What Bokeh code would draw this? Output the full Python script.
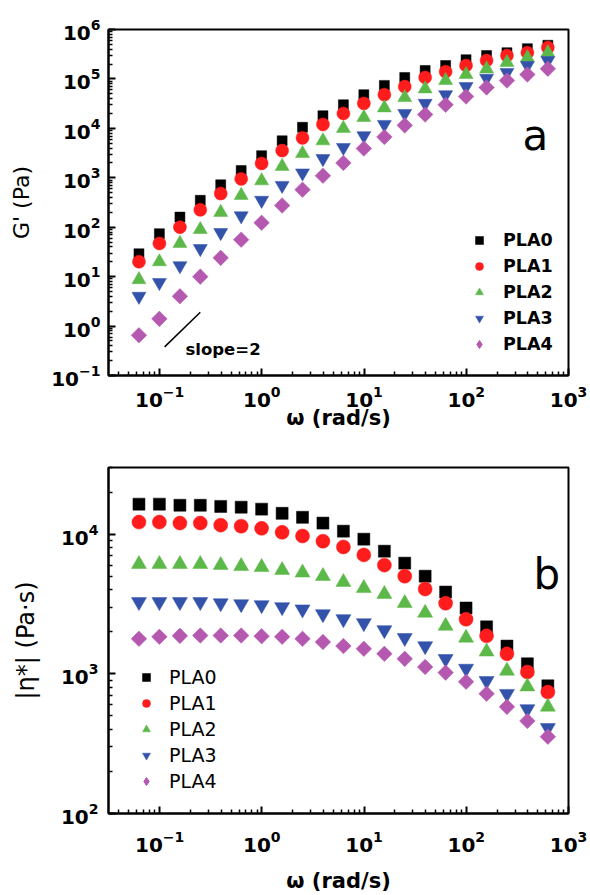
import numpy as np
from bokeh.plotting import figure
from bokeh.layouts import column
from bokeh.models import FixedTicker, Legend, LegendItem, Label, Range1d
from bokeh.embed import file_html
from bokeh.resources import INLINE

# angular frequency (rad/s)
omega = [0.0628, 0.0995, 0.158, 0.25, 0.396, 0.628, 0.995, 1.58, 2.5, 3.96, 6.28,
         9.95, 15.8, 25.0, 39.6, 62.8, 99.5, 158, 250, 396, 628]

samples = ["PLA0", "PLA1", "PLA2", "PLA3", "PLA4"]

# storage modulus G' (Pa)
g_pla0 = [29, 74, 160, 350, 720, 1400, 2800, 5600, 10500, 18000, 30000, 48000, 74000,
          107000, 148000, 187000, 245000, 297000, 340000, 410000, 480000]
g_pla1 = [20, 47, 100, 225, 480, 950, 1950, 3550, 6400, 12000, 20000, 32000, 48000,
          70000, 107000, 140000, 187000, 236000, 297000, 340000, 430000]
g_pla2 = [8.7, 20, 47, 90, 200, 440, 870, 1700, 3100, 5600, 10000, 16600, 26000,
          42000, 63000, 93000, 123000, 160000, 215000, 270000, 340000]
g_pla3 = [4.0, 7.6, 16.6, 37, 78, 170, 350, 700, 1250, 2450, 4100, 7100, 12000,
          20000, 32000, 48000, 70000, 103000, 135000, 187000, 235000]
g_pla4 = [0.65, 1.4, 4.0, 10, 24, 56, 123, 275, 575, 1100, 2000, 3900, 6700,
          11500, 19000, 30000, 44000, 67000, 93000, 123000, 160000]

# complex viscosity |eta*| (Pa.s)
eta_pla0 = [16400, 16400, 16100, 16100, 15800, 15600, 15100, 14100, 13200, 12000, 10500,
            9200, 7550, 6200, 5000, 3850, 2960, 2170, 1580, 1180, 820]
eta_pla1 = [12200, 12200, 12000, 12000, 11600, 11400, 11000, 10300, 9700, 8900, 8100,
            7100, 6000, 5000, 4050, 3200, 2460, 1870, 1390, 1030, 740]
eta_pla2 = [6100, 6100, 6100, 6100, 6000, 5900, 5800, 5530, 5300, 5000, 4540,
            4110, 3720, 3200, 2730, 2200, 1810, 1440, 1050, 810, 580]
eta_pla3 = [3270, 3270, 3270, 3270, 3210, 3160, 3110, 3010, 2900, 2680, 2470,
            2310, 2060, 1810, 1580, 1280, 1090, 890, 720, 560, 410]
eta_pla4 = [1780, 1840, 1870, 1880, 1880, 1880, 1860, 1840, 1780, 1690, 1580,
            1510, 1390, 1280, 1120, 1020, 877, 720, 580, 460, 355]

# reference slope segment in the terminal zone
slope_x = [0.112, 0.25]
slope_y = [0.38, 1.9]

colors = ["#000000", "#ff1c1c", "#5cb848", "#3352aa", "#b558b0"]
markers = ["square", "circle", "triangle", "inverted_triangle", "square"]
angles = [0, 0, 0, 0, np.pi / 4]
legend_markers = ["square", "circle", "triangle", "inverted_triangle", "diamond"]

FONT = "DejaVu Sans"


def decade_ticks(lo, hi):
    major = [10.0 ** e for e in range(lo, hi + 1)]
    minor = [m * 10.0 ** e for e in range(lo - 1, hi + 1) for m in range(2, 10)]
    return major, minor


def style_axes(p, xmaj, xmin, ymaj, ymin, x_standoff, y_standoff):
    p.xaxis.ticker = FixedTicker(ticks=xmaj, minor_ticks=xmin)
    p.yaxis.ticker = FixedTicker(ticks=ymaj, minor_ticks=ymin)
    for ax in (p.xaxis, p.yaxis):
        ax.axis_line_width = 2
        ax.axis_line_color = "black"
        ax.major_tick_line_width = 2
        ax.major_tick_in = 7
        ax.major_tick_out = 0
        ax.minor_tick_line_width = 1.5
        ax.minor_tick_in = 4
        ax.minor_tick_out = 0
        ax.major_label_text_font = FONT
        ax.major_label_text_font_style = "bold"
        ax.major_label_text_font_size = "20px"
        ax.major_label_text_color = "black"
        ax.axis_label_text_font = FONT
        ax.axis_label_text_color = "black"
    p.xaxis.major_label_standoff = x_standoff
    p.yaxis.major_label_standoff = y_standoff
    p.xgrid.visible = False
    p.ygrid.visible = False
    p.outline_line_color = "black"
    p.outline_line_width = 2
    p.outline_line_alpha = 1.0


def add_text(p, text, x, y, size, style="normal"):
    p.add_layout(Label(x=x, y=y, x_units="screen", y_units="screen", text=text,
                       text_font=FONT, text_font_size=size, text_font_style=style,
                       text_color="black", text_baseline="alphabetic",
                       text_align="left"))


def build_legend(p, series_renderers):
    items = []
    for name, r, c, m in zip(samples, series_renderers, colors, legend_markers):
        if m == "diamond":
            # key glyph only; the data itself is drawn as rotated squares
            r = p.scatter([np.nan], [np.nan], marker=m, size=12, fill_color=c,
                          line_color=c)
        items.append(LegendItem(label=name, renderers=[r]))
    return items


def draw_series(p, series, sizes):
    rends = []
    for vals, c, m, a, s in zip(series, colors, markers, angles, sizes):
        rends.append(p.scatter(omega, vals, marker=m, size=s, angle=a, fill_color=c,
                               line_color=c, line_width=0.5))
    return rends


# ---------------- panel a: storage modulus ----------------
pa = figure(width=590, height=440, x_axis_type="log", y_axis_type="log",
            x_range=Range1d(10 ** -1.5, 1e3), y_range=Range1d(0.1, 1e6),
            output_backend="svg", toolbar_location=None,
            min_border_left=108, min_border_right=17, min_border_top=29,
            min_border_bottom=65, background_fill_color="white")

xmaj, xmin = decade_ticks(-1, 3)
ymaj, ymin = decade_ticks(-1, 6)
style_axes(pa, xmaj, xmin, ymaj, ymin, 10, 8)
pa.xaxis.axis_label = "\u03c9 (rad/s)"
pa.xaxis.axis_label_text_font_style = "bold"
pa.xaxis.axis_label_text_font_size = "21px"
pa.xaxis.axis_label_standoff = -4
pa.yaxis.axis_label = "G' (Pa)"
pa.yaxis.axis_label_text_font_style = "normal"
pa.yaxis.axis_label_text_font_size = "22px"
pa.yaxis.axis_label_standoff = 14

rend_a = draw_series(pa, [g_pla0, g_pla1, g_pla2, g_pla3, g_pla4], [10, 13, 14, 14, 11])
pa.line(slope_x, slope_y, line_color="black", line_width=1.5)

leg_a = Legend(items=build_legend(pa, rend_a), location=(361, 21), glyph_width=20,
               glyph_height=20, label_height=20, spacing=6, label_standoff=14,
               padding=0, margin=0, border_line_color=None, background_fill_alpha=0,
               label_text_font=FONT, label_text_font_style="bold",
               label_text_font_size="17.5px", label_text_color="black")
pa.add_layout(leg_a)

add_text(pa, "a", 414, 240, "42px")
add_text(pa, "slope=2", 77, 26, "16.5px", style="bold")

# ---------------- panel b: complex viscosity ----------------
pb = figure(width=590, height=455, x_axis_type="log", y_axis_type="log",
            x_range=Range1d(10 ** -1.5, 1e3), y_range=Range1d(100, 3e4),
            output_backend="svg", toolbar_location=None,
            min_border_left=102, min_border_right=22, min_border_top=27,
            min_border_bottom=81, background_fill_color="white")

ymaj_b, ymin_b = decade_ticks(2, 4)
ymin_b = [v for v in ymin_b if 100 < v <= 3e4]
style_axes(pb, xmaj, xmin, ymaj_b, ymin_b, 17, 10)
pb.xaxis.axis_label = "\u03c9 (rad/s)"
pb.xaxis.axis_label_text_font_style = "bold"
pb.xaxis.axis_label_text_font_size = "21px"
pb.xaxis.axis_label_standoff = 14
pb.yaxis.axis_label = "|\u03b7*| (Pa\u00b7s)"
pb.yaxis.axis_label_text_font_style = "normal"
pb.yaxis.axis_label_text_font_size = "24px"
pb.yaxis.axis_label_standoff = 18

rend_b = draw_series(pb, [eta_pla0, eta_pla1, eta_pla2, eta_pla3, eta_pla4],
                     [12, 14, 15, 15, 11])

leg_b = Legend(items=build_legend(pb, rend_b), location=(28, 21), glyph_width=20,
               glyph_height=20, label_height=20, spacing=4, label_standoff=13,
               padding=0, margin=0, border_line_color=None, background_fill_alpha=0,
               label_text_font=FONT, label_text_font_style="normal",
               label_text_font_size="19px", label_text_color="black")
pb.add_layout(leg_b)

add_text(pb, "b", 425, 239, "42px")

layout = column(pa, pb, spacing=0)
open("out.html", "w").write(file_html(layout, INLINE))
